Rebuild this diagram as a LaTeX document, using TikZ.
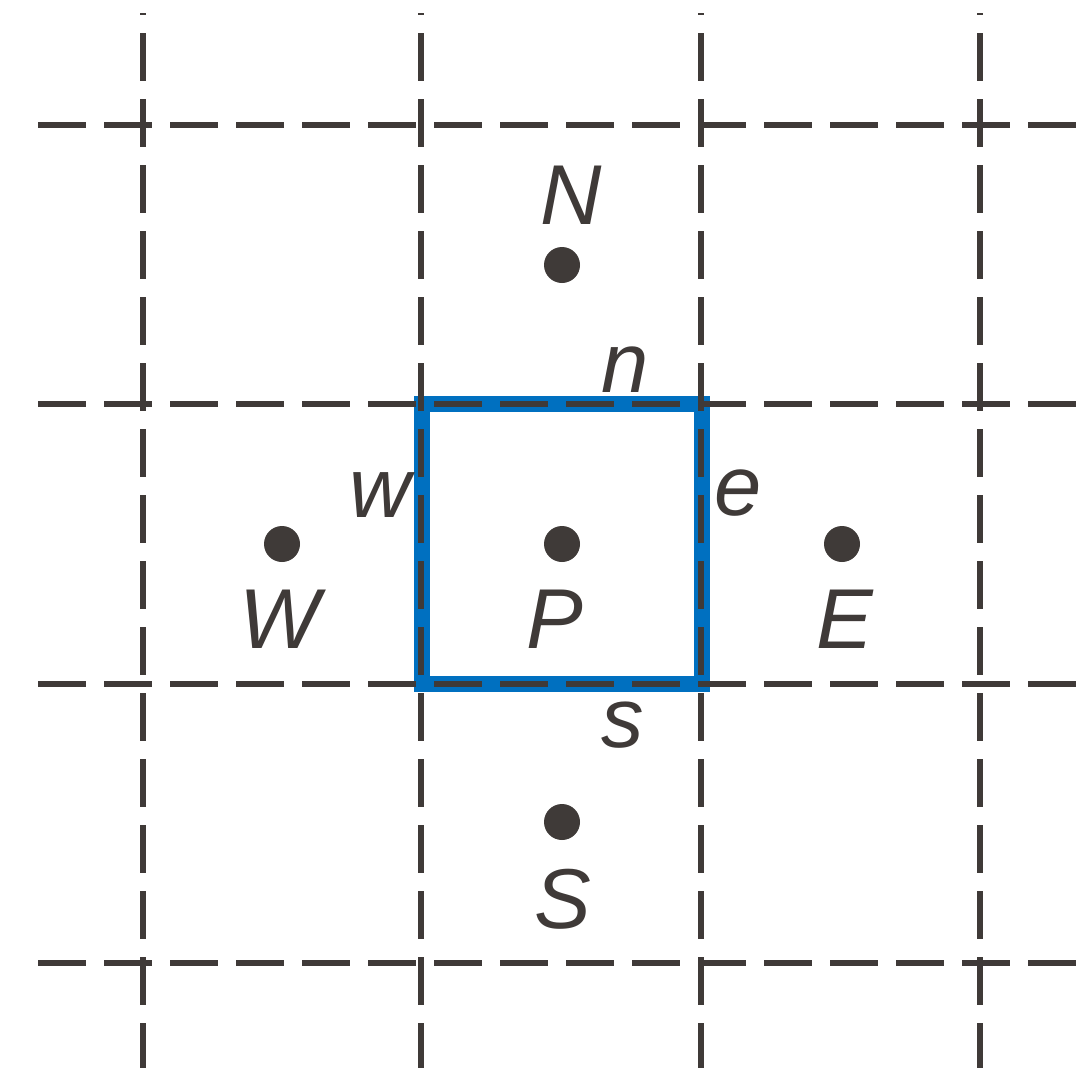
\documentclass[tikz,border=0pt]{standalone}
\usepackage{fontspec}
\setmainfont{Liberation Sans}
\definecolor{ink}{HTML}{3F3A38}
\definecolor{cvblue}{HTML}{0070C0}
\begin{document}
\begin{tikzpicture}[x=1pt,y=-1pt,
  gridline/.style={draw=ink,line width=6pt,dash pattern=on 48pt off 18pt},
  vgrid/.style={gridline,dash phase=46pt},
  cv/.style={draw=cvblue,line width=16pt,line join=miter},
  pt/.style={circle,fill=ink,inner sep=0pt,minimum size=36pt},
  lab/.style={text=ink,inner sep=0pt,anchor=base,font=\fontsize{85}{100}\selectfont\itshape}]
\useasboundingbox (0,0) rectangle (1081,1068);
% control volume
\coordinate (cvnw) at (422,404);
\coordinate (cvse) at (702,684);
\draw[cv] (cvnw) rectangle (cvse);
% grid
\foreach \x/\n in {143/a,421/b,701/c,980/d}{
  \coordinate (vt\n) at (\x,13);
  \coordinate (vb\n) at (\x,1068);
  \draw[vgrid] (vt\n) -- (vb\n);
}
\foreach \y/\n in {125/a,404/b,684/c,963/d}{
  \coordinate (hl\n) at (38,\y);
  \coordinate (hr\n) at (1078,\y);
  \draw[gridline] (hl\n) -- (hr\n);
}
% nodes
\node[pt] (dN) at (562,265) {};
\node[pt] (dW) at (282,544) {};
\node[pt] (dP) at (562,544) {};
\node[pt] (dE) at (842,544) {};
\node[pt] (dS) at (562,822) {};
% labels
\node[lab] (lN) at (571,224) {N};
\node[lab] (ln) at (625,392) {n};
\node[lab] (lw) at (380,517) {w};
\node[lab] (le) at (738,515) {e};
\node[lab] (lW) at (280,648) {W};
\node[lab] (lP) at (555,648) {P};
\node[lab] (lE) at (845,648) {E};
\node[lab] (ls) at (623,747) {s};
\node[lab] (lS) at (563,928) {S};
\end{tikzpicture}
\end{document}
